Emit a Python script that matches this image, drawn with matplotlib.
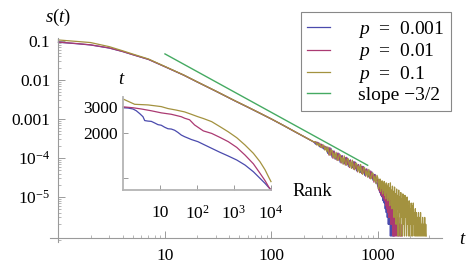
import matplotlib
matplotlib.use('Agg')
import matplotlib.pyplot as plt
from matplotlib.ticker import NullLocator, NullFormatter, FixedLocator

plt.rcParams['font.family'] = ['Liberation Serif', 'DejaVu Serif']
plt.rcParams['mathtext.fontset'] = 'custom'
plt.rcParams['mathtext.rm'] = 'Liberation Serif'
plt.rcParams['mathtext.it'] = 'Liberation Serif:italic'
plt.rcParams['mathtext.bf'] = 'Liberation Serif:bold'

# ── Data: s(t) curves, smooth head ─────────────────────────────────
t_head = [1, 1.5, 2, 3, 4, 5, 7, 10, 15, 20, 30, 45, 60, 80, 100, 130, 170, 210, 250]
s_head_001 = [0.0926, 0.0848, 0.0789, 0.0657, 0.0535, 0.0443, 0.0336, 0.0218, 0.01327, 0.00893,
              0.00516, 0.00294, 0.00200, 0.00135, 0.000993, 0.000678, 0.000453, 0.000332, 0.000256]
s_head_01 = [0.0935, 0.0855, 0.0795, 0.0662, 0.0538, 0.0445, 0.0337, 0.0219, 0.01330, 0.00895,
             0.00518, 0.00295, 0.00201, 0.00136, 0.000995, 0.000680, 0.000455, 0.000333, 0.000257]
s_head_1 = [0.106, 0.097, 0.091, 0.0714, 0.0560, 0.0460, 0.0345, 0.0222, 0.01340, 0.00900,
            0.00520, 0.00297, 0.00202, 0.00136, 0.00100, 0.000682, 0.000456, 0.000334, 0.000258]

# ── Data: noisy tail, counts in units of 1e-6 ──────────────────────
tail_t = [260, 266, 272, 278, 284, 290, 296, 303, 310, 317, 324, 331, 338, 346, 354, 362, 370, 378,
          386, 395, 404, 413, 422, 431, 441, 451, 461, 471, 482, 493, 504, 515, 527, 539, 551, 563,
          575, 588, 601, 615, 629, 643, 657, 672, 687, 702, 718, 734, 750, 767, 784, 802, 820, 838,
          857, 876, 896, 916, 936, 957, 978,
          1000, 1011, 1022, 1033, 1045, 1057, 1069, 1081, 1093, 1105, 1117, 1130, 1143, 1156, 1169,
          1182, 1195, 1208, 1222, 1236, 1250, 1264, 1278, 1292, 1307, 1322, 1337, 1352, 1367, 1382,
          1398, 1414, 1430, 1446, 1462, 1479, 1496, 1513, 1530, 1547, 1565, 1583, 1601, 1619, 1637,
          1656, 1675, 1694, 1713, 1732, 1752, 1772, 1792, 1812, 1833, 1854, 1875, 1896, 1917, 1939,
          1961, 1983, 2005, 2028, 2051, 2074, 2097, 2121, 2145, 2169, 2193, 2218, 2243, 2268, 2294,
          2320, 2346, 2372, 2399, 2426, 2453, 2481, 2509, 2537, 2566, 2595, 2624, 2654, 2684, 2714,
          2745, 2776, 2807, 2840]
tail_001 = [226, 255, 218, 244, 194, 222, 223, 180, 170, 200, 165, 188, 131, 184, 131, 175, 105, 144,
            151, 95, 94, 133, 96, 130, 78, 109, 115, 73, 72, 102, 75, 100, 61, 84, 89, 57,
            57, 80, 58, 78, 47, 65, 68, 44, 43, 61, 44, 60, 36, 50, 52, 34, 33, 47,
            33, 44, 27, 36, 38, 23, 23,
            18, 27, 15, 24, 13, 22, 11, 19, 10, 17, 8, 15, 7, 13, 5,
            11, 4, 9, 3, 8, 2, 6, 2, 5, 1, 4, 1, 3, 1, 2,
            1, 1]
tail_01 = [255, 217, 252, 209, 230, 188, 223, 186, 200, 164, 197, 156, 176, 119, 183, 119, 154, 98,
           149, 107, 127, 87, 134, 88, 115, 74, 113, 82, 97, 66, 104, 68, 90, 57, 88, 64,
           76, 52, 80, 53, 69, 44, 67, 50, 58, 40, 61, 41, 53, 34, 52, 38, 44, 30,
           46, 30, 39, 24, 37, 26, 31,
           24, 16, 28, 14, 25, 12, 23, 11, 21, 10, 19, 9, 18, 8, 16,
           6, 15, 5, 13, 4, 12, 3, 10, 3, 9, 2, 8, 2, 7, 1,
           6, 1, 5, 1, 5, 1, 4, 1, 3, 1, 3, 1, 2, 1, 2,
           1, 1]
tail_1 = [262, 219, 240, 202, 237, 199, 183, 216, 212, 160, 190, 143, 192, 135, 117, 161, 158, 106,
          134, 95, 140, 98, 86, 120, 122, 78, 103, 69, 113, 75, 65, 94, 95, 60, 80, 54,
          88, 59, 50, 73, 73, 46, 62, 42, 68, 45, 38, 57, 56, 36, 47, 32, 51, 34,
          29, 41, 41, 26, 34, 22, 36,
          30, 16, 27, 19, 29, 14, 24, 17, 26, 12, 22, 15, 25, 11, 20,
          9, 23, 13, 19, 8, 22, 10, 17, 6, 23, 9, 15, 5, 19, 8,
          14, 3, 18, 6, 12, 2, 16, 5, 11, 1, 15, 4, 10, 1, 13,
          3, 9, 1, 12, 2, 8, 1, 11, 3, 7, 1, 10, 2, 6, 1,
          8, 1, 5, 2, 7, 1, 6, 1, 7, 2, 4, 1, 5, 1, 4,
          1, 3, 1, 4, 1, 3, 1, 4, 1, 2, 1, 3, 1, 2, 1,
          3, 1, 2, 1]

slope_t = [10, 800]
slope_s = [0.0465, 6.5e-5]

# ── Data: inset, t versus rank ─────────────────────────────────────
rank_001 = [1, 1.37, 1.86, 2.29, 2.82, 3.47, 3.86, 4.74, 5.82, 7.2, 8.83, 10.8, 13.4, 16.4, 20.2,
            24.9, 30.6, 37.6, 46.4, 57.1, 70.2, 106, 148, 249, 418, 700, 1190, 1990, 3340, 5050,
            6900, 8800, 10000]
t_001 = [2966, 2953, 2910, 2830, 2710, 2580, 2430, 2410, 2400, 2340, 2280, 2260, 2190, 2140, 2130,
         2090, 2020, 1940, 1890, 1850, 1810, 1750, 1680, 1578, 1483, 1400, 1315, 1216, 1096, 989,
         915, 855, 825]
rank_01 = [1, 1.86, 3.13, 5.82, 10.8, 20.2, 37.6, 46.4, 63, 86, 148, 249, 418, 700, 1190, 1990,
           3340, 5050, 6900, 8800, 10000]
t_01 = [3010, 2966, 2910, 2830, 2740, 2680, 2580, 2520, 2460, 2270, 2070, 1990, 1870, 1750, 1600,
        1420, 1240, 1070, 955, 860, 825]
rank_1 = [1, 1.37, 2.07, 4.74, 10.8, 16.4, 27.6, 46.4, 70, 106, 148, 249, 418, 700, 1190, 1990,
          3340, 5050, 6900, 8800, 10000]
t_1 = [3400, 3280, 3130, 3100, 3020, 2930, 2860, 2780, 2680, 2580, 2510, 2390, 2210, 2040, 1860,
       1660, 1460, 1280, 1130, 1000, 940]

labels = ['$p$  =  0.001', '$p$  =  0.01', '$p$  =  0.1', 'slope \u22123/2']
colors = ['#4a4aad', '#ab3a72', '#a3923f', '#45aa62']

W, H = 474, 275
fig = plt.figure(figsize=(W / 100, H / 100), dpi=100)


def px_axes(x0, y0, x1, y1):
    return fig.add_axes([x0 / W, 1 - y1 / H, (x1 - x0) / W, (y1 - y0) / H])


axis_gray = '#9a9a9a'

# ── Main plot ──────────────────────────────────────────────────────
ax = px_axes(50.4, 38, 442, 241.7)
ax.set_xscale('log')
ax.set_yscale('log')
ax.set_xlim(0.84, 3990)
ax.set_ylim(7.15e-7, 0.119)

heads = [s_head_001, s_head_01, s_head_1]
tails = [tail_001, tail_01, tail_1]
lines = []
for head, tail, c in zip(heads, tails, colors):
    tt = t_head + tail_t[:len(tail)]
    ss = head + [k * 1e-6 for k in tail]
    ln, = ax.plot(tt, ss, color=c, lw=0.9)
    lines.append(ln)
ln, = ax.plot(slope_t, slope_s, color=colors[3], lw=1.0)
lines.append(ln)

for side in ['top', 'right']:
    ax.spines[side].set_visible(False)
ax.spines['left'].set_position(('data', 1))
ax.spines['bottom'].set_position(('data', 8.7e-7))
for side in ['left', 'bottom']:
    ax.spines[side].set_color(axis_gray)
    ax.spines[side].set_linewidth(0.8)

ax.set_xticks([1, 10, 100, 1000])
ax.set_xticklabels(['', '10', '100', '1000'])
ax.xaxis.set_minor_locator(FixedLocator([m * 10 ** e for e in range(0, 4) for m in range(2, 10)]))
ax.set_yticks([0.1, 0.01, 0.001, 1e-4, 1e-5])
ax.set_yticklabels(['0.1', '0.01', '0.001', r'$10^{-4}$', r'$10^{-5}$'])
ax.yaxis.set_minor_locator(FixedLocator([m * 10.0 ** e for e in range(-7, -1) for m in range(2, 10)]))
ax.xaxis.set_minor_formatter(NullFormatter())
ax.yaxis.set_minor_formatter(NullFormatter())
ax.tick_params(which='both', direction='in', color=axis_gray, labelsize=12.5)
ax.tick_params(which='major', length=5, width=0.7)
ax.tick_params(which='minor', length=2.5, width=0.5)
ax.tick_params(axis='x', pad=7)
ax.tick_params(axis='y', pad=6)
ax.patch.set_alpha(0)

fig.text(58 / W, 1 - 17 / H, r'$s(t)$', ha='center', va='center', fontsize=13.5)
fig.text(463 / W, 1 - 240 / H, r'$t$', ha='center', va='center', fontsize=13.5)

leg = ax.legend(lines, labels, loc='upper right', bbox_to_anchor=(451 / W, 1 - 12 / H),
                bbox_transform=fig.transFigure, borderaxespad=0, fontsize=14,
                handlelength=1.15, handletextpad=1.45, borderpad=0.35, labelspacing=0.08,
                fancybox=False, framealpha=1, edgecolor='#888888')
leg.get_frame().set_linewidth(0.8)

# ── Inset ──────────────────────────────────────────────────────────
axin = px_axes(123, 96.7, 271, 190)
axin.set_xscale('log')
axin.set_yscale('log')
axin.set_xlim(1, 10000)
axin.set_ylim(825, 3523)
axin.patch.set_alpha(0)
for r, tv, c in zip([rank_001, rank_01, rank_1], [t_001, t_01, t_1], colors):
    axin.plot(r, tv, color=c, lw=0.9, clip_on=False)

for side in ['top', 'right']:
    axin.spines[side].set_visible(False)
for side in ['left', 'bottom']:
    axin.spines[side].set_color('#b4b4b4')
    axin.spines[side].set_linewidth(1.3)
axin.set_xticks([10, 100, 1000, 10000])
axin.set_xticklabels(['10', r'$10^2$', r'$10^3$', r'$10^4$'])
axin.set_yticks([1000, 2000, 3000])
axin.set_yticklabels(['', '2000', '3000'])
axin.xaxis.set_minor_locator(NullLocator())
axin.yaxis.set_minor_locator(NullLocator())
axin.xaxis.set_minor_formatter(NullFormatter())
axin.yaxis.set_minor_formatter(NullFormatter())
axin.tick_params(which='major', direction='in', color=axis_gray, length=3.5, width=0.7,
                 labelsize=12.5)
axin.tick_params(axis='x', pad=11)
axin.tick_params(axis='y', pad=4)

fig.text(122 / W, 1 - 80 / H, r'$t$', ha='center', va='center', fontsize=13.5)
fig.text(292 / W, 1 - 192 / H, 'Rank', ha='left', va='center', fontsize=13.5)

fig.savefig('out.png', dpi=100)
